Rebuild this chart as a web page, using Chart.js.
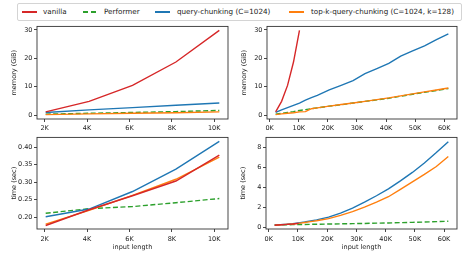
<!DOCTYPE html>
<html>
<head>
<meta charset="utf-8">
<script src="https://cdn.jsdelivr.net/npm/chart.js@4.4.1/dist/chart.umd.min.js"></script>
<style>
  body { margin: 0; background: #fff; width: 468px; height: 258px; position: relative; overflow: hidden; font-family: "DejaVu Sans", sans-serif; }
  .panel { position: absolute; }
  #legend { position: absolute; left: 17px; top: 3px; width: 445px; height: 18px; border: 1px solid #d4d4d4; border-radius: 2px; box-sizing: border-box; }
  .item { position: absolute; top: 0; height: 16px; line-height: 16px; font-size: 7.2px; color: #1a1a1a; white-space: nowrap; }
  .swatch { position: absolute; top: 7px; width: 15px; height: 1.5px; }
</style>
</head>
<body>
<div id="legend"></div>
<div class="panel" style="left:0px;top:21px"><canvas id="memShort" width="231" height="110"></canvas></div>
<div class="panel" style="left:230px;top:21px"><canvas id="memLong" width="230" height="110"></canvas></div>
<div class="panel" style="left:0px;top:132px"><canvas id="timeShort" width="231" height="121"></canvas></div>
<div class="panel" style="left:229px;top:132px"><canvas id="timeLong" width="231" height="121"></canvas></div>
<script>
// input lengths (tokens)
const lengths = [2048, 4096, 6144, 8192, 10240, 12288, 14336, 16384, 20480, 24576,
  28672, 32768, 36864, 40960, 45056, 49152, 53248, 57344, 61440];
const SHORT = 5; // left panels only show the first few lengths

// memory (GiB)
const memVanilla = [1.2, 4.9, 10.5, 18.7, 29.8];
const memPerformer = [0.4, 0.7, 1.0, 1.3, 1.7, 2.0, 2.3, 2.6, 3.2, 3.7, 4.3, 4.9, 5.4, 6.0, 6.7, 7.4, 8.1, 8.7, 9.4];
const memQuery = [1.0, 1.9, 2.7, 3.5, 4.3, 5.3, 6.2, 7.0, 8.9, 10.5, 12.2, 14.6, 16.4, 18.2, 20.8, 22.6, 24.4, 26.6, 28.6];
const memTopk = [0.25, 0.5, 0.7, 0.9, 1.2, 1.3, 2.3, 2.6, 3.2, 3.8, 4.3, 4.9, 5.5, 6.1, 6.8, 7.5, 8.2, 8.9, 9.6];

// time (sec)
const timeVanilla = [0.176, 0.221, 0.261, 0.303, 0.377];
const timePerformer = [0.211, 0.224, 0.230, 0.241, 0.253, 0.26, 0.27, 0.28, 0.30, 0.32, 0.34, 0.36, 0.39, 0.41, 0.44, 0.47, 0.50, 0.54, 0.58];
const timeQuery = [0.201, 0.223, 0.273, 0.337, 0.416, 0.5, 0.62, 0.72, 1.0, 1.4, 1.9, 2.5, 3.15, 3.85, 4.65, 5.5, 6.45, 7.5, 8.6];
const timeTopk = [0.180, 0.219, 0.262, 0.308, 0.371, 0.45, 0.54, 0.63, 0.85, 1.17, 1.55, 2.0, 2.5, 3.05, 3.8, 4.55, 5.3, 6.1, 7.1];

// tick labels
const xTicksShort = [2000, 4000, 6000, 8000, 10000];
const xTicksLong = [0, 10000, 20000, 30000, 40000, 50000, 60000];
const memTicks = [0, 10, 20, 30];
const timeTicksShort = [0.20, 0.25, 0.30, 0.35, 0.40];
const timeTicksLong = [0, 2, 4, 6, 8];

const seriesNames = ['vanilla', 'Performer', 'query-chunking (C=1024)', 'top-k-query-chunking (C=1024, k=128)'];
const colors = ['#d62728', '#2ca02c', '#1f77b4', '#ff7f0e'];

const FONT = { family: 'DejaVu Sans', size: 6.5 };
const INK = '#1a1a1a';

// legend (html)
const legendPos = [[4, 25], [65, 86], [137, 159], [271, 293]];
const legendEl = document.getElementById('legend');
seriesNames.forEach((name, i) => {
  const sw = document.createElement('div');
  sw.className = 'swatch';
  sw.style.left = legendPos[i][0] + 'px';
  sw.style.background = i === 1
    ? `repeating-linear-gradient(to right, ${colors[i]} 0 5px, transparent 5px 8px)`
    : colors[i];
  legendEl.appendChild(sw);
  const txt = document.createElement('div');
  txt.className = 'item';
  txt.style.left = legendPos[i][1] + 'px';
  txt.textContent = name;
  legendEl.appendChild(txt);
});

// box around the axes
const frame = {
  id: 'frame',
  afterDraw(chart) {
    const { ctx, chartArea: a } = chart;
    ctx.save();
    ctx.strokeStyle = '#333';
    ctx.lineWidth = 0.9;
    ctx.strokeRect(a.left, a.top, a.right - a.left, a.bottom - a.top);
    ctx.restore();
  }
};

const toPoints = (xs, ys) => ys.map((y, i) => ({ x: xs[i], y: y }));

function series(n, vanilla, performer, query, topk) {
  const xs = lengths.slice(0, n);
  const data = [vanilla, performer.slice(0, n), query.slice(0, n), topk.slice(0, n)];
  const order = [0, 3, 2, 1];
  return data.map((ys, i) => ({
    label: seriesNames[i],
    data: toPoints(xs, ys),
    borderColor: colors[i],
    borderWidth: 1.4,
    borderDash: i === 1 ? [5, 2.5] : [],
    pointRadius: 0,
    tension: 0,
    order: order[i]
  }));
}

function makeChart(id, datasets, opt) {
  return new Chart(document.getElementById(id), {
    type: 'line',
    data: { datasets: datasets },
    options: {
      responsive: false,
      animation: false,
      devicePixelRatio: 1,
      layout: { padding: { top: 5, right: 3, left: 0, bottom: 0 } },
      plugins: { legend: { display: false }, tooltip: { enabled: false } },
      scales: {
        x: {
          type: 'linear',
          min: opt.xMin, max: opt.xMax,
          afterBuildTicks: s => { s.ticks = opt.xTicks.map(v => ({ value: v })); },
          afterFit: s => { s.height = opt.xh; },
          ticks: { font: FONT, color: INK, padding: opt.xPad, maxRotation: 0, callback: v => (v / 1000) + 'K' },
          grid: { drawOnChartArea: false, drawTicks: true, tickLength: 3, color: INK, lineWidth: 0.8 },
          border: { display: false },
          title: { display: !!opt.xTitle, text: opt.xTitle || '', font: FONT, color: INK, padding: { top: 0, bottom: 1.5 } }
        },
        y: {
          min: opt.yMin, max: opt.yMax,
          afterBuildTicks: s => { s.ticks = opt.yTicks.map(v => ({ value: v })); },
          afterFit: s => { s.width = 37; },
          ticks: { font: FONT, color: INK, padding: 1.5, callback: opt.yFmt },
          grid: { drawOnChartArea: false, drawTicks: true, tickLength: 3, color: INK, lineWidth: 0.8 },
          border: { display: false },
          title: { display: true, text: opt.yTitle, font: FONT, color: INK, padding: { top: 10.5, bottom: 0 } }
        }
      }
    },
    plugins: [frame]
  });
}

makeChart('memShort', series(SHORT, memVanilla, memPerformer, memQuery, memTopk), {
  xMin: 1638, xMax: 10650, xTicks: xTicksShort, xh: 12, xPad: 2,
  yMin: -1.3, yMax: 31.2, yTicks: memTicks, yTitle: 'memory (GiB)', yFmt: v => v
});
makeChart('memLong', series(lengths.length, memVanilla, memPerformer, memQuery, memTopk), {
  xMin: -922, xMax: 64410, xTicks: xTicksLong, xh: 12, xPad: 2,
  yMin: -1.3, yMax: 31.2, yTicks: memTicks, yTitle: 'memory (GiB)', yFmt: v => v
});
makeChart('timeShort', series(SHORT, timeVanilla, timePerformer, timeQuery, timeTopk), {
  xMin: 1638, xMax: 10650, xTicks: xTicksShort, xh: 24, xPad: 3, xTitle: 'input length',
  yMin: 0.166, yMax: 0.4275, yTicks: timeTicksShort, yTitle: 'time (sec)', yFmt: v => v.toFixed(2)
});
makeChart('timeLong', series(lengths.length, timeVanilla, timePerformer, timeQuery, timeTopk), {
  xMin: -922, xMax: 64410, xTicks: xTicksLong, xh: 24, xPad: 3, xTitle: 'input length',
  yMin: -0.2, yMax: 9.03, yTicks: timeTicksLong, yTitle: 'time (sec)', yFmt: v => v
});
</script>
</body>
</html>
